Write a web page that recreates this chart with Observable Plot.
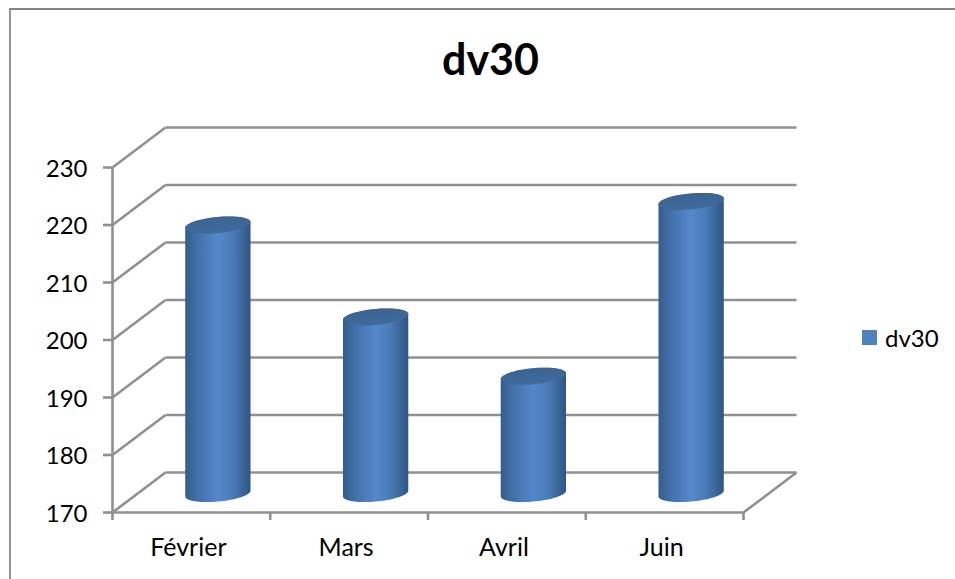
<!DOCTYPE html>
<html lang="fr">
<head>
<meta charset="utf-8">
<title>dv30</title>
<script src="https://cdn.jsdelivr.net/npm/d3@7"></script>
<script src="https://cdn.jsdelivr.net/npm/@observablehq/plot@0.6"></script>
<style>
  html, body { margin: 0; background: #fff; }
  #chart { position: relative; width: 955px; height: 579px; overflow: hidden; font-family: Lato, "Open Sans", sans-serif; color: #000; }
  #frame { position: absolute; left: 9px; top: 8px; right: -4px; bottom: -4px; border-top: 2px solid #858585; border-left: 2px solid #959595; }
  #title { position: absolute; left: 0; width: 981px; top: 33px; text-align: center; font-size: 43px; font-weight: 700; line-height: 52px; }
  #legend { position: absolute; left: 862px; top: 321px; }
  #legend svg { margin-right: 8px !important; }
  svg { display: block; }
</style>
</head>
<body>
<div id="chart">
  <div id="frame"></div>
  <div id="title">dv30</div>
  <div id="legend"></div>
</div>
<script>
const seriesName = "dv30";
const months = ["Février", "Mars", "Avril", "Juin"];
const values = [216.7, 200.7, 190.4, 220.8];
const yTicks = [170, 180, 190, 200, 210, 220, 230];

// Oblique projection: how far the back wall sits behind the front plane, in scale units.
const depthX = 0.336;
const depthY = 6.96;
const grey = "#909090";
const lineWidth = 2.6;

const radiusX = 0.207;
const radiusY = 1.4;
const tilt = 0.5;

const baseValue = yTicks[0];
const topValue = yTicks[yTicks.length - 1];
const xMax = months.length;

// Cylinder outlines are derived from each month's value.
function arc(cx, cy, from, to) {
  return d3.range(0, 41).map(i => {
    const t = from + (to - from) * i / 40;
    return {
      x: cx + radiusX * Math.cos(t),
      y: cy + radiusY * Math.sin(t) + tilt * Math.cos(t)
    };
  });
}
const cylinders = months.map((month, i) => {
  const cx = i + 0.5 + depthX / 2;
  const lift = 3.3;
  return {month, cx, top: values[i] + lift, bottom: baseValue + lift};
});
const bodies = cylinders.flatMap(c => [
  ...arc(c.cx, c.top, 0, Math.PI),
  ...arc(c.cx, c.bottom, Math.PI, 2 * Math.PI)
].map(p => ({...p, month: c.month})));
const caps = cylinders.flatMap(c =>
  arc(c.cx, c.top, 0, 2 * Math.PI).map(p => ({...p, month: c.month}))
);

const backWall = yTicks.map(v => ({x1: depthX, x2: xMax + depthX, y: v + depthY}));
const sideWall = yTicks.map(v => ({x1: 0, x2: depthX, y1: v, y2: v + depthY}));

const shading = () => {
  const defs = d3.create("svg:defs");
  const body = defs.append("linearGradient").attr("id", "cylinder-body");
  [[0, "#345d8c"], [0.18, "#436fa8"], [0.5, "#5488cc"], [0.72, "#4b7cb9"], [1, "#2f5582"]]
    .forEach(([o, c]) => body.append("stop").attr("offset", o).attr("stop-color", c));
  const cap = defs.append("linearGradient").attr("id", "cylinder-cap").attr("x2", 0.3).attr("y2", 1);
  [[0, "#3a6392"], [1, "#3f6a9b"]]
    .forEach(([o, c]) => cap.append("stop").attr("offset", o).attr("stop-color", c));
  return defs.node();
};

const plot = Plot.plot({
  width: 955,
  height: 579,
  marginLeft: 112,
  marginRight: 212,
  marginTop: 167,
  marginBottom: 67,
  style: {fontFamily: "Lato, 'Open Sans', sans-serif", background: "transparent", position: "absolute", left: 0, top: 0},
  x: {type: "linear", domain: [0, xMax]},
  y: {domain: [baseValue, topValue]},
  marks: [
    shading,
    // Walls and floor
    Plot.link(backWall, {x1: "x1", x2: "x2", y1: "y", y2: "y", stroke: grey, strokeWidth: lineWidth}),
    Plot.link(sideWall, {x1: "x1", x2: "x2", y1: "y1", y2: "y2", stroke: grey, strokeWidth: lineWidth}),
    Plot.link([0], {x1: xMax, x2: xMax + depthX, y1: baseValue, y2: baseValue + depthY, stroke: grey, strokeWidth: lineWidth}),
    Plot.link([0], {x1: 0, x2: 0, y1: baseValue, y2: topValue, stroke: grey, strokeWidth: lineWidth}),
    Plot.link([0], {x1: 0, x2: xMax, y1: baseValue, y2: baseValue, stroke: grey, strokeWidth: lineWidth}),
    // Axes: tick marks and labels are separate so the labels can sit slightly lower
    Plot.axisY({ticks: yTicks, tickSize: 9, stroke: grey, strokeWidth: lineWidth, tickFormat: () => "", label: null}),
    Plot.axisY({ticks: yTicks, tickSize: 0, tickPadding: 25, fontSize: 24, dy: 1.5, fill: "#000", label: null, tickFormat: d => `${d}`}),
    Plot.axisX({ticks: d3.range(0, xMax + 1), tickSize: 8, stroke: grey, strokeWidth: lineWidth, tickFormat: () => "", label: null}),
    Plot.axisX({
      ticks: months.map((m, i) => i + 0.5),
      tickSize: 0,
      tickPadding: 26,
      fontSize: 25,
      dx: -3,
      fill: "#000",
      label: null,
      tickFormat: d => months[Math.floor(d)]
    }),
    // Cylinders
    Plot.line(bodies, {x: "x", y: "y", z: "month", fill: "url(#cylinder-body)", stroke: "none", curve: "linear"}),
    Plot.line(caps, {x: "x", y: "y", z: "month", fill: "url(#cylinder-cap)", stroke: "none", curve: "linear"})
  ]
});
document.getElementById("chart").appendChild(plot);

const legend = Plot.legend({
  color: {domain: [seriesName], range: ["#4f81bd"]},
  swatchSize: 15,
  swatchWidth: 15,
  swatchHeight: 15,
  style: {fontFamily: "Lato, 'Open Sans', sans-serif", fontSize: "24px", color: "#000", margin: 0, lineHeight: "30px", columnGap: "8px"}
});
document.getElementById("legend").appendChild(legend);
</script>
</body>
</html>
